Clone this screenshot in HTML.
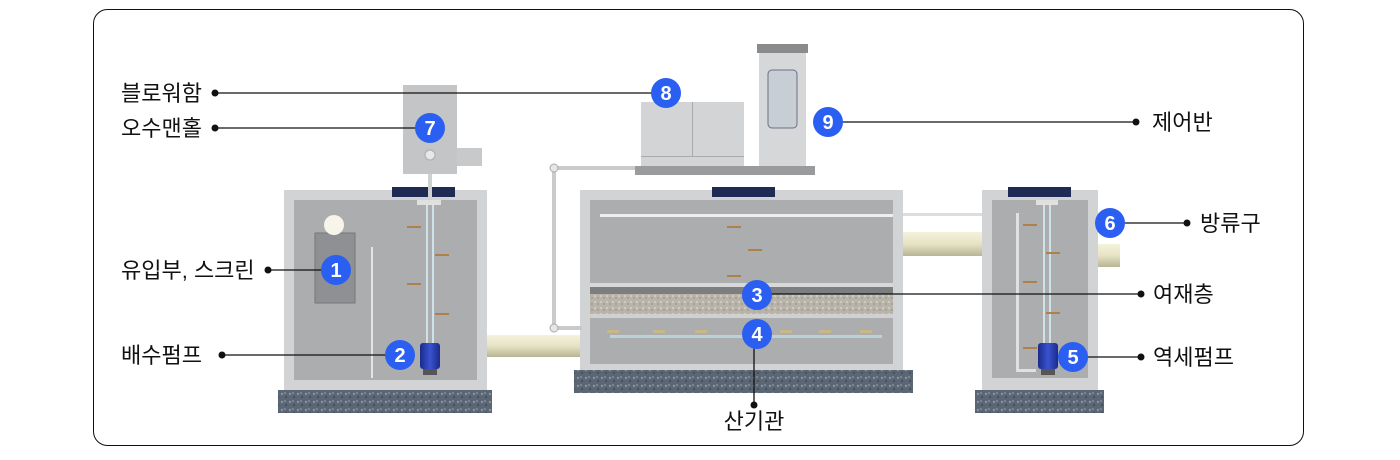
<!DOCTYPE html>
<html><head><meta charset="utf-8"><style>
html,body{margin:0;padding:0;background:#fff;width:1400px;height:460px;overflow:hidden}
svg{display:block}
text{font-family:"Liberation Sans","Noto Sans CJK KR",sans-serif}
</style></head><body>
<svg width="1400" height="460" viewBox="0 0 1400 460" xmlns="http://www.w3.org/2000/svg">
<defs>
<pattern id="grav" width="8" height="8" patternUnits="userSpaceOnUse">
<rect width="8" height="8" fill="#5a6674"/><circle cx="2" cy="2" r="1.2" fill="#8894a2"/><circle cx="6" cy="5" r="1" fill="#3e4854"/><circle cx="5" cy="1" r=".8" fill="#a0acb8"/>
</pattern>
<pattern id="filt" width="6" height="6" patternUnits="userSpaceOnUse">
<rect width="6" height="6" fill="#b8b4aa"/><circle cx="1" cy="2" r="1" fill="#d6d2c8"/><circle cx="4" cy="4" r=".9" fill="#9a968c"/>
</pattern>
<linearGradient id="pipe" x1="0" y1="0" x2="0" y2="1"><stop offset="0" stop-color="#f4f2dc"/><stop offset=".5" stop-color="#e6e3c4"/><stop offset="1" stop-color="#b8b596"/></linearGradient>
<linearGradient id="pump" x1="0" y1="0" x2="1" y2="0"><stop offset="0" stop-color="#1a2b8a"/><stop offset=".5" stop-color="#3a52d0"/><stop offset="1" stop-color="#1a2b8a"/></linearGradient>
</defs>
<rect x="93.5" y="9.5" width="1210" height="436" rx="14" fill="#fff" stroke="#111" stroke-width="1"/>

<rect x="480" y="335" width="105" height="22" fill="url(#pipe)"/>
<rect x="900" y="232" width="90" height="24" fill="url(#pipe)"/>
<rect x="1095" y="244" width="25" height="23" fill="url(#pipe)"/>

<rect x="278" y="390" width="214" height="23" fill="url(#grav)"/>
<rect x="284" y="190" width="203" height="200" fill="#d2d3d4"/>
<rect x="294" y="200" width="183" height="180" fill="#acadaf"/>
<rect x="392" y="187" width="63" height="10" fill="#1f2a55"/>
<rect x="315" y="233" width="40" height="70" fill="#8e9093" stroke="#777" stroke-width="1"/>
<circle cx="334" cy="225" r="10" fill="#f7f5ea"/>
<rect x="371" y="247" width="2" height="131" fill="#e4e4e4"/>
<rect x="417" y="200" width="24" height="5" fill="#e0e0e0"/>
<rect x="426" y="205" width="2" height="140" fill="#cfe2e8"/><rect x="432" y="205" width="2" height="140" fill="#cfe2e8"/>
<rect x="420" y="343" width="20" height="26" rx="3" fill="url(#pump)"/>
<rect x="423" y="369" width="14" height="6" fill="#555"/>
<g fill="#b0804a"><rect x="407" y="226" width="14" height="2"/><rect x="435" y="254" width="14" height="2"/><rect x="407" y="283" width="14" height="2"/><rect x="435" y="313" width="14" height="2"/></g>
<rect x="428" y="150" width="4" height="50" fill="#cfd0d2"/>
<rect x="403" y="85" width="54" height="89" fill="#c4c5c6"/>
<rect x="457" y="148" width="25" height="18" fill="#c8c9ca"/>
<circle cx="430" cy="155" r="5" fill="#e8e8e8" stroke="#aaa"/>

<rect x="574" y="370" width="339" height="23" fill="url(#grav)"/>
<rect x="580" y="190" width="323" height="180" fill="#d2d3d4"/>
<rect x="590" y="200" width="303" height="164" fill="#acadaf"/>
<rect x="590" y="283" width="303" height="4" fill="#d8d8d8"/>
<rect x="590" y="287" width="303" height="7" fill="#7d7e80"/>
<rect x="590" y="294" width="303" height="20" fill="url(#filt)"/>
<rect x="590" y="314" width="303" height="4" fill="#d0d0d0"/>
<rect x="712" y="187" width="63" height="10" fill="#1f2a55"/>
<rect x="600" y="214" width="293" height="3" fill="#eeeeee"/>
<rect x="610" y="335" width="272" height="3" fill="#b9d2da"/>
<g fill="#b0804a"><rect x="727" y="226" width="14" height="2"/><rect x="748" y="249" width="14" height="2"/><rect x="727" y="275" width="14" height="2"/></g>
<g fill="#c8b888"><rect x="607" y="330" width="12" height="3"/><rect x="653" y="330" width="12" height="3"/><rect x="695" y="330" width="12" height="3"/><rect x="780" y="330" width="12" height="3"/><rect x="819" y="330" width="12" height="3"/><rect x="860" y="330" width="12" height="3"/></g>
<rect x="552" y="166" width="4" height="162" fill="#c9cacb"/>
<rect x="552" y="166" width="83" height="4" fill="#c9cacb"/>
<rect x="552" y="326" width="30" height="4" fill="#c9cacb"/>
<circle cx="554" cy="168" r="4" fill="#e6e6e6" stroke="#aaa"/>
<circle cx="554" cy="328" r="4" fill="#e6e6e6" stroke="#aaa"/>
<rect x="903" y="213" width="90" height="3" fill="#ddd"/>
<rect x="635" y="166" width="180" height="9" fill="#9a9b9d"/>
<rect x="641" y="102" width="103" height="64" fill="#d3d4d5"/>
<rect x="692" y="102" width="1" height="54" fill="#aaa"/>
<rect x="641" y="156" width="103" height="1" fill="#aaa"/>
<rect x="759" y="52" width="47" height="114" fill="#d6d7d8"/>
<rect x="757" y="44" width="51" height="9" fill="#8a8b8d"/>
<rect x="768" y="70" width="29" height="58" rx="4" fill="#c8ced6" stroke="#6a7080"/>

<rect x="975" y="390" width="129" height="23" fill="url(#grav)"/>
<rect x="982" y="190" width="116" height="200" fill="#d2d3d4"/>
<rect x="992" y="200" width="96" height="178" fill="#acadaf"/>
<rect x="1008" y="187" width="63" height="10" fill="#1f2a55"/>
<rect x="1016" y="213" width="3" height="158" fill="#e0e0e0"/>
<rect x="1016" y="369" width="20" height="3" fill="#e0e0e0"/>
<rect x="1036" y="200" width="22" height="5" fill="#e0e0e0"/>
<rect x="1043" y="205" width="2" height="140" fill="#cfe2e8"/><rect x="1049" y="205" width="2" height="140" fill="#cfe2e8"/>
<rect x="1038" y="343" width="20" height="26" rx="3" fill="url(#pump)"/>
<rect x="1041" y="369" width="14" height="6" fill="#555"/>
<g fill="#b0804a"><rect x="1023" y="224" width="14" height="2"/><rect x="1046" y="252" width="14" height="2"/><rect x="1023" y="281" width="14" height="2"/><rect x="1046" y="312" width="14" height="2"/><rect x="1023" y="347" width="14" height="2"/></g>

<g stroke="#111" stroke-width="1.3" fill="none">
<line x1="215" y1="93" x2="666" y2="93"/>
<line x1="215" y1="128" x2="430" y2="128"/>
<line x1="268" y1="270" x2="336" y2="270"/>
<line x1="222" y1="355" x2="400" y2="355"/>
<line x1="828" y1="122" x2="1136" y2="122"/>
<line x1="1110" y1="223" x2="1187" y2="223"/>
<line x1="757" y1="294" x2="1141" y2="294"/>
<line x1="1073" y1="357" x2="1141" y2="357"/>
<line x1="754" y1="334" x2="754" y2="405"/>
</g>
<g fill="#111">
<circle cx="215" cy="93" r="3.5"/><circle cx="215" cy="128" r="3.5"/><circle cx="268" cy="270" r="3.5"/><circle cx="222" cy="355" r="3.5"/>
<circle cx="1136" cy="122" r="3.5"/><circle cx="1187" cy="223" r="3.5"/><circle cx="1141" cy="294" r="3.5"/><circle cx="1141" cy="357" r="3.5"/><circle cx="754" cy="405" r="3.5"/>
</g>
<g font-size="20" font-weight="bold" fill="#fff" text-anchor="middle">
<circle cx="666" cy="93" r="15" fill="#2a5ff2"/><text x="666" y="100">8</text>
<circle cx="430" cy="128" r="15" fill="#2a5ff2"/><text x="430" y="135">7</text>
<circle cx="828" cy="122" r="15" fill="#2a5ff2"/><text x="828" y="129">9</text>
<circle cx="1110" cy="223" r="15" fill="#2a5ff2"/><text x="1110" y="230">6</text>
<circle cx="336" cy="270" r="15" fill="#2a5ff2"/><text x="336" y="277">1</text>
<circle cx="400" cy="355" r="15" fill="#2a5ff2"/><text x="400" y="362">2</text>
<circle cx="757" cy="295" r="15" fill="#2a5ff2"/><text x="757" y="302">3</text>
<circle cx="757" cy="334" r="15" fill="#2a5ff2"/><text x="757" y="341">4</text>
<circle cx="1073" cy="357" r="15" fill="#2a5ff2"/><text x="1073" y="364">5</text>
</g>
<g font-size="22" fill="#111">
<text x="121" y="101">블로워함</text>
<text x="121" y="136">오수맨홀</text>
<text x="121" y="278">유입부, 스크린</text>
<text x="121" y="363">배수펌프</text>
<text x="1152" y="130">제어반</text>
<text x="1200" y="231">방류구</text>
<text x="1153" y="302">여재층</text>
<text x="1153" y="365">역세펌프</text>
<text x="754" y="429" text-anchor="middle">산기관</text>
</g>
</svg>
</body></html>
